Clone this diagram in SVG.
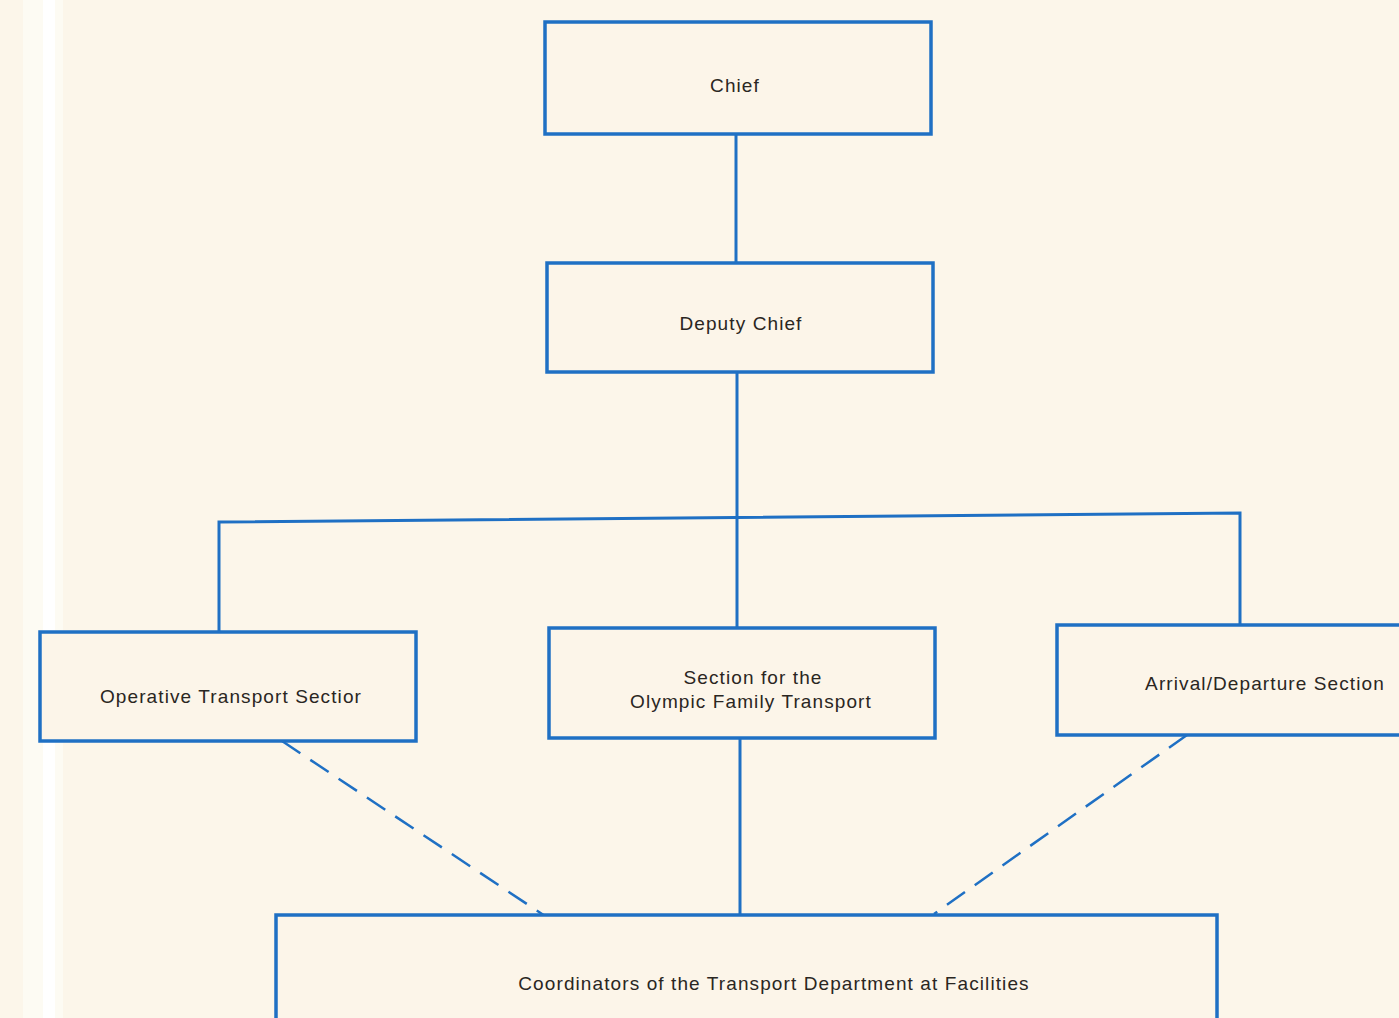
<svg xmlns="http://www.w3.org/2000/svg" width="1399" height="1018" viewBox="0 0 1399 1018">
<style>
.box{fill:#fcf5e9;stroke:#1f70c4;stroke-width:3.5}
.ln{fill:none;stroke:#1f70c4;stroke-width:3}
.dash{fill:none;stroke:#1f70c4;stroke-width:2.5;stroke-dasharray:22 12}
text{font-family:"Liberation Sans",Arial,sans-serif;font-size:19px;fill:#2a2622;text-anchor:middle;letter-spacing:1.1px}
</style>
<rect x="0" y="0" width="1399" height="1018" fill="#fcf6ea"/>
<rect x="23" y="0" width="40" height="1018" fill="#fdfbf3"/>
<rect x="43" y="0" width="12" height="1018" fill="#ffffff"/>
<g id="connectors">
<path class="ln" d="M736 134 V263"/>
<path class="ln" d="M737 372 V628"/>
<path class="ln" d="M219 632 V522 L1240 513 V625"/>
<path class="ln" d="M740 738 V916"/>
<path class="dash" d="M282 741 L548 918"/>
<path class="dash" d="M1187 735 L934 914"/>
</g>
<g id="chief"><rect class="box" x="545" y="22" width="386" height="112"/><text x="735" y="92">Chief</text></g>
<g id="deputy"><rect class="box" x="547" y="263" width="386" height="109"/><text x="741" y="330">Deputy Chief</text></g>
<g id="operative"><rect class="box" x="40" y="632" width="376" height="109"/><text x="231" y="703">Operative Transport Sectior</text></g>
<g id="olympic"><rect class="box" x="549" y="628" width="386" height="110"/><text x="753" y="684">Section for the</text><text x="751" y="708">Olympic Family Transport</text></g>
<g id="arrival"><rect class="box" x="1057" y="625" width="360" height="110"/><text x="1265" y="690">Arrival/Departure Section</text></g>
<g id="coordinators"><rect class="box" x="276" y="915" width="941" height="120"/><text x="774" y="990">Coordinators of the Transport Department at Facilities</text></g>
</svg>
